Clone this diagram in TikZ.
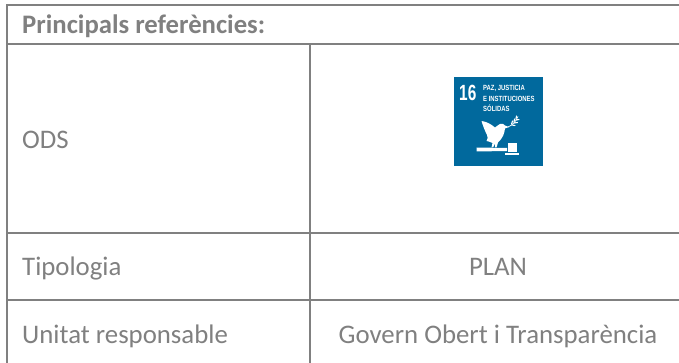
\documentclass[tikz,border=0pt]{standalone}
\usepackage{fontspec}
\setmainfont{Carlito}
\newfontfamily\iconfont[FakeStretch=.79]{Liberation Sans}
\newfontfamily\numfont[FakeStretch=.7]{Liberation Sans}
\definecolor{rule}{RGB}{128,128,128}
\definecolor{txt}{RGB}{128,128,128}
\definecolor{sdg}{RGB}{1,105,157}
\tikzset{
  gridline/.style={draw=rule,line width=2pt},
  cell/.style={text=txt,font=\fontsize{26.8}{30}\selectfont,inner sep=0pt},
  headcell/.style={cell,font=\fontsize{26.7}{30}\selectfont\bfseries},
  icontext/.style={text=white,inner sep=0pt,anchor=west,align=left,font=\iconfont\bfseries\fontsize{7.5}{10.5}\selectfont},
  iconart/.style={fill=white,draw=none}
}
\begin{document}
\begin{tikzpicture}[x=1pt,y=-1pt]
\useasboundingbox (0,0) rectangle (679,363);
\fill[white] (0,0) rectangle (679,363);
\draw[gridline] (679,5.5) -- (7,5.5) -- (7,363);
\draw[gridline,line width=1.6pt] (7,44) -- (679,44);
\draw[gridline,line width=1.6pt] (7,233) -- (679,233);
\draw[gridline,line width=1.6pt] (7,300) -- (679,300);
\draw[gridline,line width=1.6pt] (310,44) -- (310,363);
\node[headcell,anchor=base west] (head) at (22,33.5) {Principals referències:};
\node[cell,anchor=base west] (ods) at (22,148.3) {ODS};
\node[cell,anchor=base west] (tip) at (22,275.5) {Tipologia};
\node[cell,anchor=base west] (uni) at (22,343) {Unitat responsable};
\node[cell,anchor=base] (plan) at (498,275.5) {PLAN};
\node[cell,anchor=base] (gov) at (498,343) {Govern Obert i Transparència};
% icon
\fill[sdg] (454,77) rectangle (543,166);
\node[text=white,inner sep=0pt,anchor=base west,font=\numfont\bfseries\fontsize{22}{22}\selectfont] (num) at (459,101) {16};
\node[icontext] (ttl) at (483,98.5) {PAZ, JUSTICIA\\E INSTITUCIONES\\SÓLIDAS};
% dove
\fill[iconart] (481.5,121) .. controls (486,121.5) and (491,124) .. (495,127.5)
  .. controls (497,126.5) and (498,124.5) .. (500,124)
  .. controls (502,123) and (504,124) .. (505,125.5)
  -- (509,127) -- (505,128.5)
  .. controls (504.5,133) and (503,138) .. (498,142.5)
  -- (496.5,147.5) -- (495,147.5) -- (495,143.5) -- (493,147.5) -- (491.5,147.5) -- (492.5,143)
  .. controls (490,142) and (488,141) .. (486.5,141)
  .. controls (488,139) and (488,137) .. (487,135)
  .. controls (485,131) and (483,126) .. (481.5,121) -- cycle;
% branch
\draw[white,line width=.7pt] (508,127) .. controls (513,125) and (516,121) .. (518,116.5);
\foreach \a/\b/\c/\d in {512/125/515/125.5,514/123/517.5/122.5,516/120/519/119.5,511.5/124/512.5/121,514/122/514.5/119,516/119/516.5/116}
  \draw[white,line width=1.1pt,line cap=round] (\a,\b) -- (\c,\d);
% gavel
\fill[iconart] (476.5,147.5) -- (507,148) -- (507,151) -- (476.5,151.5) -- cycle;
\fill[iconart] (507.5,143) rectangle (516.5,152);
\fill[iconart] (505,153) rectangle (518.5,155.5);
\end{tikzpicture}
\end{document}
